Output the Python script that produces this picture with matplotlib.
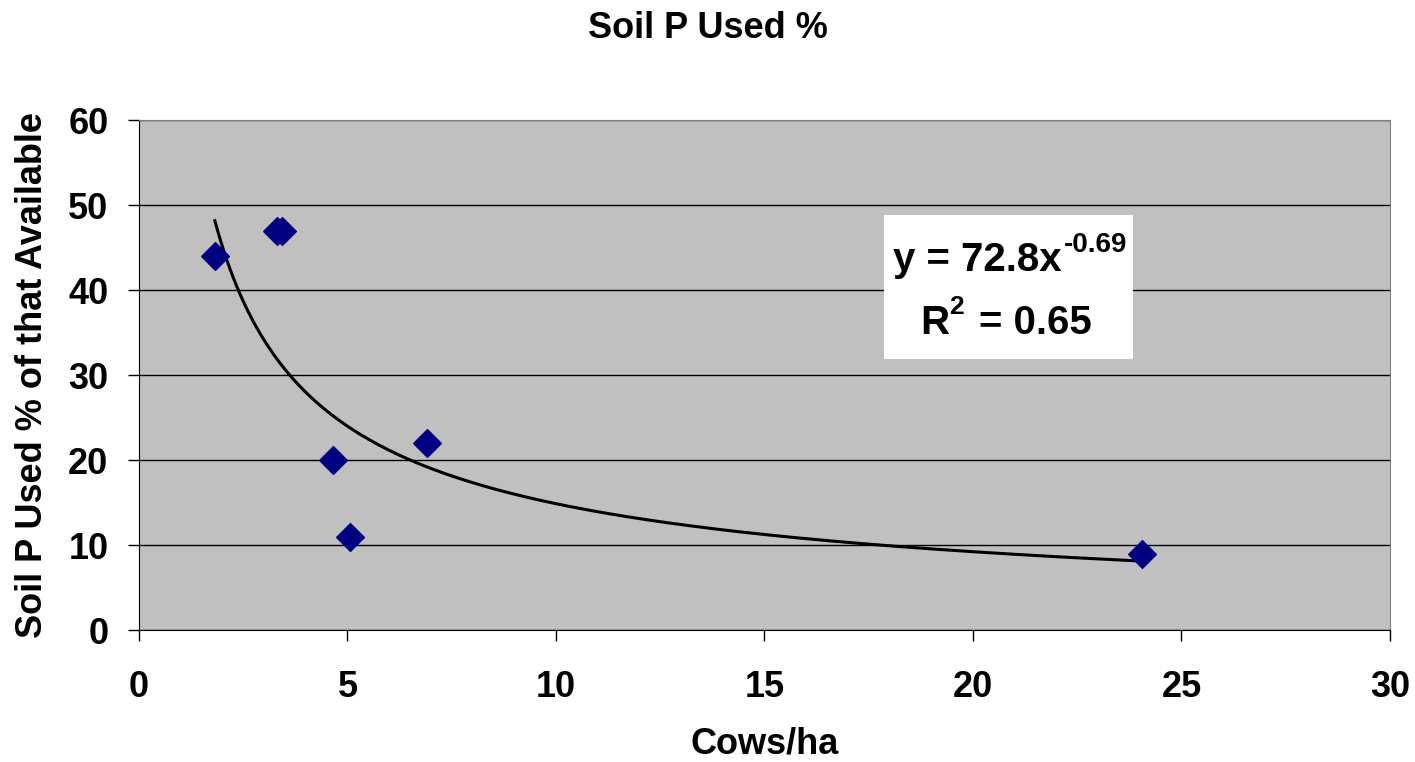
import matplotlib
matplotlib.use('Agg')
import numpy as np
import matplotlib.pyplot as plt

plt.rcParams['font.family'] = ['Liberation Sans', 'DejaVu Sans']
plt.rcParams['font.weight'] = 'bold'

cows_per_ha = [1.82, 3.31, 3.43, 4.65, 5.05, 6.9, 24.05]
soil_p_used = [44.0, 47.0, 47.0, 20.0, 10.9, 22.0, 8.9]

# power trendline shown on the chart
coef_a = 72.8
coef_b = -0.69
r_squared = 0.65

fig = plt.figure(figsize=(14.15, 7.62), dpi=100)
ax = fig.add_axes([0.0982, 0.1732, 0.8841, 0.6693])
ax.set_facecolor('#C0C0C0')

x_fit = np.linspace(min(cows_per_ha), max(cows_per_ha), 300)
ax.plot(x_fit, coef_a * x_fit ** coef_b, color='black', lw=2.2, zorder=2)
diamond = [(-1, 0), (0, 1), (1, 0), (0, -1), (-1, 0)]
ax.plot(cows_per_ha, soil_p_used, linestyle='none', marker=diamond, markersize=20,
        color='#000080', zorder=3)

ax.set_xlim(0, 30)
ax.set_ylim(0, 60)
ax.set_xticks(range(0, 31, 5))
ax.set_yticks(range(0, 61, 10))
ax.grid(axis='y', color='black', lw=1.0)
ax.set_axisbelow(True)
for side in ['top', 'right']:
    ax.spines[side].set_color('#808080')
ax.spines['left'].set_color('black')
ax.spines['bottom'].set_color('black')
ax.tick_params(labelsize=26, length=8, width=1)
ax.tick_params(axis='x', pad=21)
ax.tick_params(axis='y', pad=14)

ax.set_xlabel('Cows/ha', fontsize=26, fontweight='bold')
ax.xaxis.label.set_va('baseline')
ax.xaxis.set_label_coords(0.5, -0.243)
ax.set_ylabel('Soil P Used % of that Available', fontsize=26, fontweight='bold')
ax.yaxis.set_label_coords(-0.071, 0.5)
fig.text(0.5, 0.950, 'Soil P Used %', fontsize=26, fontweight='bold',
         ha='center', va='baseline')

# equation box
ax.add_patch(plt.Rectangle((0.5955, 0.531), 0.1991, 0.2827, transform=ax.transAxes,
                           facecolor='white', edgecolor='none', zorder=4))
eq_kw = dict(transform=ax.transAxes, fontweight='bold', va='baseline', zorder=5)
ax.text(0.7378, 0.704, 'y = %.1fx' % coef_a, fontsize=29, ha='right', **eq_kw)
ax.text(0.7394, 0.741, '%.2f' % coef_b, fontsize=20, ha='left', **eq_kw)
ax.text(0.6475, 0.580, 'R', fontsize=29, ha='right', **eq_kw)
ax.text(0.6479, 0.620, '2', fontsize=19, ha='left', **eq_kw)
ax.text(0.6715, 0.580, '= %.2f' % r_squared, fontsize=29, ha='left', **eq_kw)

plt.savefig('out.png', dpi=100)
